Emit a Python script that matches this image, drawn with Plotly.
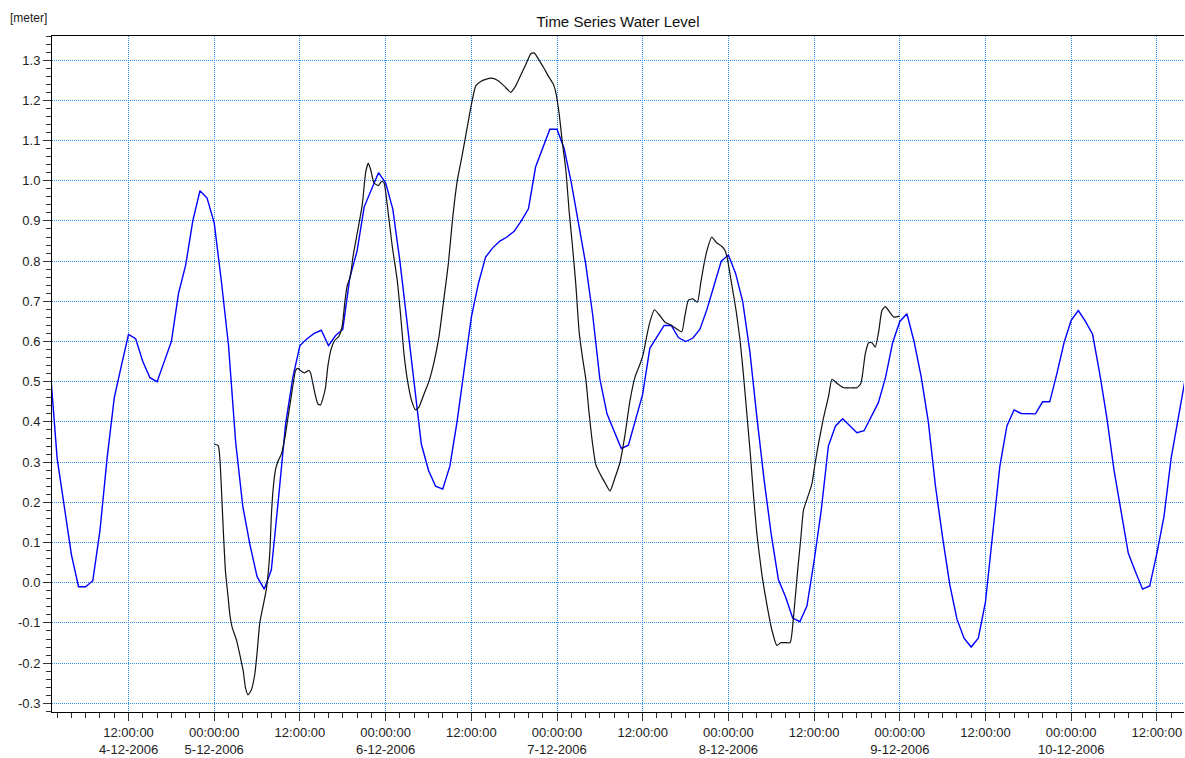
import pandas as pd
import plotly.graph_objects as go

# ---- data -------------------------------------------------------------
# Hourly simulated water level [m], first value at 4-12-2006 01:00
model_start = "2006-12-04 01:00"
model_level = [
    0.54, 0.31, 0.19, 0.07, -0.01, -0.01, 0.005, 0.13, 0.31, 0.46,
    0.54, 0.618, 0.607, 0.55, 0.51, 0.50, 0.55, 0.60, 0.72, 0.79,
    0.90, 0.975, 0.957, 0.895, 0.75, 0.59, 0.35, 0.19, 0.095, 0.015,
    -0.016, 0.032, 0.21, 0.395, 0.51, 0.59, 0.607, 0.62, 0.628, 0.59,
    0.615, 0.63, 0.76, 0.825, 0.935, 0.98, 1.02, 0.995, 0.93, 0.80,
    0.645, 0.495, 0.345, 0.28, 0.24, 0.233, 0.29, 0.40, 0.53, 0.66,
    0.745, 0.81, 0.833, 0.85, 0.86, 0.874, 0.90, 0.93, 1.034, 1.08,
    1.128, 1.128, 1.08, 0.995, 0.89, 0.795, 0.666, 0.507, 0.42, 0.375,
    0.334, 0.342, 0.408, 0.469, 0.583, 0.613, 0.64, 0.64, 0.61, 0.60,
    0.608, 0.63, 0.68, 0.74, 0.80, 0.815, 0.77, 0.70, 0.576, 0.41,
    0.256, 0.12, 0.008, -0.035, -0.088, -0.097, -0.058, 0.054, 0.18, 0.34,
    0.39, 0.408, 0.39, 0.373, 0.378, 0.414, 0.448, 0.51, 0.597, 0.65,
    0.669, 0.60, 0.512, 0.40, 0.24, 0.112, -0.005, -0.09, -0.138, -0.16,
    -0.138, -0.048, 0.128, 0.288, 0.39, 0.43, 0.421, 0.421, 0.42, 0.45,
    0.45, 0.52, 0.597, 0.653, 0.677, 0.65, 0.618, 0.52, 0.41, 0.28,
    0.18, 0.073, 0.027, -0.016, -0.008, 0.073, 0.165, 0.31, 0.41, 0.51,
]

# Observed water level [m]; time in hours after 4-12-2006 00:00
obs_hours = [
    24.0, 24.56, 24.79, 25.02, 25.26, 25.58, 25.95, 26.19, 26.51, 27.12,
    27.67, 28.05, 28.37, 28.74, 29.21, 29.67, 30.0, 30.37, 30.84, 31.3,
    31.77, 32.0, 32.23, 32.6, 32.98, 33.4, 33.86, 34.33, 34.79, 35.4,
    35.72, 36.05, 36.65, 37.26, 37.49, 37.81, 38.19, 38.51, 38.88, 39.21,
    39.58, 39.91, 40.37, 40.84, 41.46, 41.93, 42.3, 42.63, 43.04, 43.42,
    44.03, 44.73, 45.2, 45.57, 45.9, 46.36, 46.97, 47.44, 47.77, 48.23,
    48.93, 49.64, 50.1, 50.57, 51.04, 51.64, 52.2, 52.67, 53.37, 54.07,
    54.78, 55.48, 56.18, 56.79, 57.35, 58.05, 58.75, 59.45, 60.06, 60.62,
    61.32, 62.02, 62.81, 63.65, 64.59, 65.52, 66.22, 66.93, 67.63, 68.33,
    68.8, 69.5, 70.2, 70.9, 71.46, 71.83, 72.3, 72.77, 73.23, 73.71,
    74.17, 74.64, 75.1, 75.57, 76.04, 76.5, 76.97, 77.44, 78.14, 78.84,
    79.42, 80.12, 80.82, 81.52, 82.22, 82.93, 83.63, 84.09, 84.56, 85.03,
    85.64, 86.34, 87.13, 88.07, 88.77, 89.47, 89.93, 90.4, 91.01, 91.66,
    92.13, 92.6, 93.07, 93.67, 94.28, 95.07, 95.54, 95.87, 96.48, 97.08,
    97.64, 98.11, 98.58, 99.05, 99.51, 99.98, 100.68, 101.38, 102.08, 102.79,
    103.35, 103.95, 104.65, 105.12, 105.68, 106.15, 106.52, 107.22, 107.69, 108.16,
    108.63, 109.33, 110.03, 110.5, 111.2, 112.13, 113.07, 114.0, 114.56, 115.17,
    115.64, 116.1, 116.57, 117.04, 117.5, 117.97, 118.44, 119.14, 119.98,
]
obs_level = [
    0.345, 0.341, 0.309, 0.229, 0.134, 0.027, -0.037, -0.079, -0.111, -0.143,
    -0.186, -0.218, -0.261, -0.279, -0.266, -0.229, -0.175, -0.101, -0.058, -0.016,
    0.070, 0.166, 0.229, 0.283, 0.304, 0.320, 0.357, 0.411, 0.464, 0.528,
    0.533, 0.528, 0.522, 0.528, 0.522, 0.496, 0.464, 0.445, 0.442, 0.458,
    0.485, 0.538, 0.581, 0.602, 0.613, 0.64, 0.70, 0.74, 0.76, 0.81,
    0.87, 0.94, 1.02, 1.044, 1.028, 0.995, 0.988, 0.998, 0.995, 0.94,
    0.837, 0.751, 0.666, 0.57, 0.506, 0.453, 0.43, 0.437, 0.469, 0.501,
    0.549, 0.613, 0.709, 0.794, 0.90, 1.002, 1.066, 1.135, 1.194, 1.236,
    1.247, 1.252, 1.255, 1.25, 1.236, 1.22, 1.236, 1.263, 1.289, 1.316,
    1.318, 1.30, 1.279, 1.257, 1.241, 1.22, 1.167, 1.092, 1.028, 0.922,
    0.837, 0.741, 0.624, 0.56, 0.506, 0.421, 0.347, 0.293, 0.267, 0.245,
    0.228, 0.261, 0.299, 0.368, 0.453, 0.512, 0.544, 0.57, 0.613, 0.65,
    0.679, 0.666, 0.648, 0.64, 0.631, 0.624, 0.666, 0.703, 0.706, 0.698,
    0.746, 0.794, 0.831, 0.86, 0.847, 0.837, 0.826, 0.805, 0.741, 0.677,
    0.602, 0.517, 0.421, 0.325, 0.219, 0.123, 0.022, -0.053, -0.117, -0.156,
    -0.149, -0.149, -0.149, -0.085, 0.027, 0.112, 0.181, 0.219, 0.245, 0.299,
    0.347, 0.411, 0.464, 0.506, 0.496, 0.485, 0.485, 0.485, 0.496, 0.57,
    0.597, 0.597, 0.586, 0.624, 0.677, 0.687, 0.677, 0.661, 0.663,
]

# Axis ticks
x_ticks = pd.date_range("2006-12-04 12:00", "2006-12-10 12:00", freq="12h")
y_ticks = [round(-0.3 + 0.1 * i, 1) for i in range(17)]

# ---- build ------------------------------------------------------------
base = pd.Timestamp("2006-12-04 00:00")
model_time = pd.date_range(model_start, periods=len(model_level), freq="h")
obs_time = [base + pd.Timedelta(hours=h) for h in obs_hours]

x_text = []
for i, t in enumerate(x_ticks):
    top = t.strftime("%H:%M:%S")
    if i == 0 or t.hour == 0:
        x_text.append(f"{top}<br>{t.day}-{t.month}-{t.year}")
    else:
        x_text.append(top)
y_text = [f"{v:.1f}" for v in y_ticks]

FONT = "Liberation Sans, Arial, sans-serif"
GRID = "#2f8ff5"

fig = go.Figure()
fig.add_trace(go.Scatter(x=model_time, y=model_level, mode="lines",
                         line=dict(color="#0000ff", width=1.4),
                         name="Model"))
fig.add_trace(go.Scatter(x=obs_time, y=obs_level, mode="lines",
                         line=dict(color="#111111", width=1.2,
                                   shape="spline", smoothing=0.5),
                         name="Observed"))

fig.update_layout(
    width=1185, height=758,
    margin=dict(l=52, r=1, t=36, b=44),
    paper_bgcolor="white", plot_bgcolor="white",
    showlegend=False,
    font=dict(family=FONT, size=13, color="#222222"),
    title=dict(text="Time Series Water Level", x=0.5, xref="paper",
               xanchor="center", y=1 - 22 / 758, yref="container",
               yanchor="middle", font=dict(size=15, color="#111111")),
    annotations=[dict(text="[meter]", xref="paper", yref="paper",
                      x=-44 / 1132, y=1 + 18 / 678, xanchor="left",
                      yanchor="middle", showarrow=False,
                      font=dict(size=12, color="#222222"))],
)

fig.update_xaxes(
    type="date",
    range=["2006-12-04 01:17", "2006-12-10 15:48"],
    tickmode="array", tickvals=x_ticks, ticktext=x_text,
    ticks="outside", ticklen=8, tickwidth=1, tickcolor="#333333",
    showline=True, linecolor="#000000", linewidth=1, mirror=True,
    showgrid=True, gridcolor=GRID, gridwidth=1, griddash="1px,1px",
    zeroline=False,
    minor=dict(dtick=2 * 3600 * 1000, tick0="2006-12-04 00:00",
               ticks="outside", ticklen=5, tickcolor="#333333",
               showgrid=False),
)
fig.update_yaxes(
    range=[-0.3216, 1.36],
    tickmode="array", tickvals=y_ticks, ticktext=y_text,
    ticks="outside", ticklen=8, tickwidth=1, tickcolor="#333333",
    showline=True, linecolor="#000000", linewidth=1,
    showgrid=True, gridcolor=GRID, gridwidth=1, griddash="1px,1px",
    zeroline=False,
    minor=dict(dtick=0.02, tick0=0, ticks="outside", ticklen=5,
               tickcolor="#333333", showgrid=False),
)

fig.write_html("out.html")
